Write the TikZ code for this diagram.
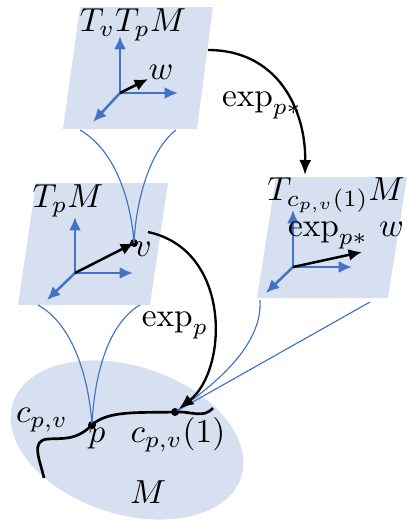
\documentclass[tikz,border=0pt]{standalone}
\usetikzlibrary{arrows.meta}
\definecolor{planefill}{RGB}{214,224,241}
\definecolor{axisblue}{RGB}{68,114,196}
\tikzset{
  plane/.style={fill=planefill, draw=none},
  axis/.style={axisblue, line width=0.75pt, -{Latex[length=4pt,width=3.6pt]}},
  vec/.style={black, line width=0.75pt, -{Latex[length=4pt,width=3.6pt]}},
  link/.style={axisblue, line width=0.35pt},
  maparrow/.style={black, line width=0.7pt, -{Latex[length=4.5pt,width=3.6pt]}},
  curve/.style={black, line width=0.8pt},
  dot/.style={circle, fill=black, inner sep=0pt, minimum size=2.4pt},
  lbl/.style={inner sep=0pt}
}
\begin{document}
\begin{tikzpicture}[x=0.3pt, y=-0.3pt]
\useasboundingbox (0,0) rectangle (416,523);
% manifold
\fill[planefill, rotate around={-18:(127,440)}] (127,440) ellipse [x radius=120, y radius=74];
% planes
\fill[plane] (80,7) -- (213,7) -- (197,129) -- (63,129) -- cycle;
\fill[plane] (36,183) -- (168,183) -- (150,305) -- (18,305) -- cycle;
\fill[plane] (276,177) -- (407,177) -- (388,298) -- (257,298) -- cycle;
% named points
\coordinate (o1) at (120,93);
\coordinate (o2) at (75,273);
\coordinate (o3) at (293,267);
\node[dot] (v) at (134,243) {};
\node[dot] (p) at (92,425) {};
\node[dot] (c1) at (175,412) {};
\coordinate (w1) at (148,79);
\coordinate (w3) at (362,252);
% axes top
\draw[axis] (o1) -- (120,36);
\draw[axis] (o1) -- (178,93);
\draw[axis] (o1) -- (93,122);
\draw[vec] (o1) -- (w1);
% axes middle
\draw[axis] (o2) -- (75,217);
\draw[axis] (o2) -- (133,273);
\draw[axis] (o2) -- (47,300);
\draw[vec] (o2) -- (v.center);
% axes right
\draw[axis] (o3) -- (293,210);
\draw[axis] (o3) -- (352,267);
\draw[axis] (o3) -- (266,293);
\draw[vec] (o3) -- (w3);
% link lines
\coordinate (a1) at (80,130);
\coordinate (a2) at (176,130);
\coordinate (b1) at (38,305);
\coordinate (b2) at (140,305);
\coordinate (d1) at (260,300);
\coordinate (d2) at (370,302);
\draw[link] (a1) .. controls (115,150) and (131,200) .. (v.center);
\draw[link] (a2) .. controls (150,150) and (136,200) .. (v.center);
\draw[link] (b1) .. controls (74,325) and (89,380) .. (p.center);
\draw[link] (b2) .. controls (106,325) and (94,380) .. (p.center);
\draw[link] (d1) .. controls (263,345) and (215,385) .. (c1.center);
\draw[link] (d2) -- (c1.center);
% curve c_{p,v}
\draw[curve] (44,478) .. controls (40,460) and (30,440) .. (48,439) .. controls (62,438) and (76,441) .. (p.center) .. controls (108,410) and (140,413) .. (c1.center) .. controls (192,411) and (203,419) .. (213,408);
% map arrows
\coordinate (e1s) at (208,50);
\coordinate (e1e) at (305,175);
\coordinate (e2s) at (148,232);
\draw[maparrow] (e1s) .. controls (278,50) and (306,110) .. (e1e);
\draw[maparrow, shorten >=1.5pt] (e2s) .. controls (232,250) and (228,370) .. (c1.center);
% labels
\node[lbl] (tvtpm) at (133,25) {$T_vT_pM$};
\node[lbl] (lw) at (161,72) {$w$};
\node[lbl] (tpm) at (68,201) {$T_pM$};
\node[lbl] (lv) at (143,249) {$v$};
\node[lbl] (tcm) at (336,195) {$T_{c_{p,v}(1)}M$};
\node[lbl] (expw) at (346,236) {$\exp_{p*}\,w$};
\node[lbl] (lexp1) at (262,106) {$\exp_{p*}$};
\node[lbl] (lexp2) at (175,326) {$\exp_p$};
\node[lbl] (lc) at (42,420) {$c_{p,v}$};
\node[lbl] (lp) at (97,439) {$p$};
\node[lbl] (lc1) at (178,435) {$c_{p,v}(1)$};
\node[lbl] (lM) at (148,492) {$M$};
\end{tikzpicture}
\end{document}
